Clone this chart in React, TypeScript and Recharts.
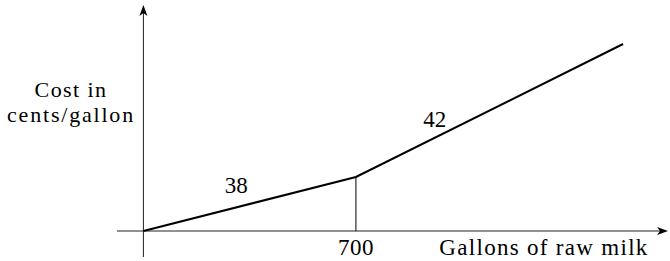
import { Line, LineChart, ReferenceDot, ReferenceLine, XAxis, YAxis } from "recharts"

// gallons of raw milk vs cost (cost axis is unscaled in the figure)
const gallons = [0, 700, 1580]
const cost = [0, 54, 187]
const xTicks = [700]
const slopeLabels = [
  { x: 306, y: 38, text: "38" },
  { x: 960, y: 104, text: "42" },
]

const data = gallons.map((g, i) => ({ gallons: g, cost: cost[i] }))

const txt = {
  fontFamily: "Liberation Serif",
  fontSize: 23,
  fill: "#000",
}

// axis line with an arrow head at its far end
function Arrow(props: any) {
  const { x1, y1, x2, y2, tip } = props
  let ax = x1, ay = y1, bx = x2, by = y2
  if ((tip === "up" && y1 < y2) || (tip === "right" && x1 > x2)) {
    ax = x2; ay = y2; bx = x1; by = y1
  }
  const ang = Math.atan2(by - ay, bx - ax)
  const c = Math.cos(ang)
  const s = Math.sin(ang)
  const pt = (u: number, v: number) => `${bx + u * c - v * s},${by + u * s + v * c}`
  return (
    <g>
      <line x1={ax} y1={ay} x2={bx - 8 * c} y2={by - 8 * s} stroke="#222" strokeWidth={1} />
      <polygon points={[pt(0, 0), pt(-11, -4), pt(-8, 0), pt(-11, 4)].join(" ")} fill="#000" />
    </g>
  )
}

function Tick(props: any) {
  const { x, y, payload } = props
  return (
    <text x={x} y={y} dy={24} textAnchor="middle" style={{ ...txt, letterSpacing: 0.5 }}>
      {payload.value}
    </text>
  )
}

export default function App() {
  return (
    <div style={{ position: "absolute", left: 0, top: 0 }}>
      <LineChart width={670} height={261} data={data} margin={{ top: 5, right: 2, bottom: 0, left: 117 }}>
        <XAxis
          dataKey="gallons"
          type="number"
          domain={[-87, 1728]}
          ticks={xTicks}
          height={30}
          axisLine={false}
          tickLine={false}
          tickSize={0}
          tickMargin={0}
          tick={<Tick />}
        />
        <YAxis type="number" domain={[0, 226]} hide />
        <ReferenceLine
          segment={[{ x: -87, y: 0 }, { x: 1728, y: 0 }]}
          ifOverflow="visible"
          shape={(p: any) => <Arrow {...p} tip="right" />}
        />
        <ReferenceLine
          segment={[{ x: 0, y: -26 }, { x: 0, y: 226 }]}
          ifOverflow="visible"
          shape={(p: any) => <Arrow {...p} tip="up" />}
        />
        <ReferenceLine
          segment={[{ x: 700, y: 0 }, { x: 700, y: 54 }]}
          stroke="#000"
          strokeWidth={1}
        />
        <Line
          dataKey="cost"
          type="linear"
          stroke="#000"
          strokeWidth={2}
          dot={false}
          isAnimationActive={false}
        />
        {slopeLabels.map((l) => (
          <ReferenceDot
            key={l.text}
            x={l.x}
            y={l.y}
            r={0}
            ifOverflow="visible"
            shape={(p: any) => (
              <text x={p.cx} y={p.cy} textAnchor="middle" style={txt}>
                {l.text}
              </text>
            )}
          />
        ))}
        <text x={71} y={97} textAnchor="middle" style={{ ...txt, fontSize: 22, letterSpacing: 1.4 }}>
          Cost in
        </text>
        <text x={71} y={122} textAnchor="middle" style={{ ...txt, fontSize: 22, letterSpacing: 1.8 }}>
          cents/gallon
        </text>
        <text x={544} y={255} textAnchor="middle" style={{ ...txt, letterSpacing: 1.3 }}>
          Gallons of raw milk
        </text>
      </LineChart>
    </div>
  )
}
